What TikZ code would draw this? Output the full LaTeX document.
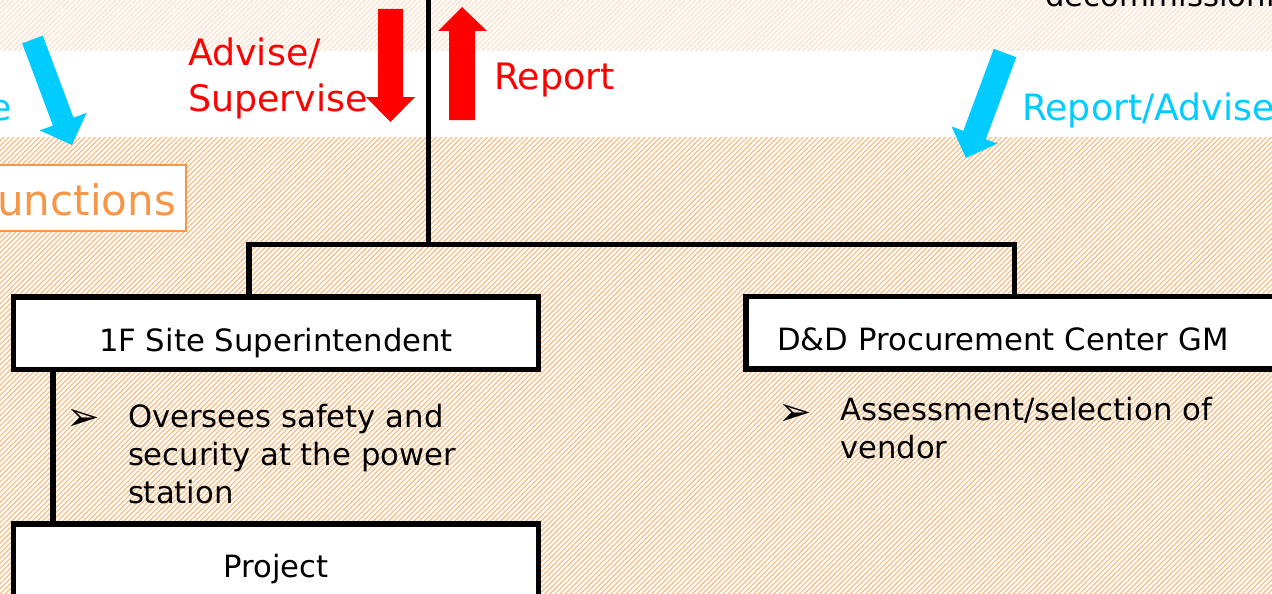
\documentclass[tikz,border=0pt]{standalone}
\usepackage{fontspec}
\setmainfont{DejaVu Sans}
\usetikzlibrary{patterns.meta,calc}
\definecolor{hatchlo}{HTML}{F9BF88}
\definecolor{hatchhi}{HTML}{FDE2CC}
\definecolor{myred}{HTML}{FF0000}
\definecolor{mycyan}{HTML}{00CCFF}
\definecolor{myorange}{HTML}{F79646}
\begin{document}
\begin{tikzpicture}[x=1pt,y=-1pt,
  boxnode/.style={draw=black, line width=5.5pt, fill=white, inner sep=0pt, outer sep=0pt,
    font=\fontsize{30.7}{37}\selectfont, text depth=0pt},
  conn/.style={draw=black, line width=5.5pt, line join=miter},
  bodytext/.style={inner sep=0pt, outer sep=0pt, anchor=base west, font=\fontsize{30.7}{37}\selectfont},
  bullet/.style={inner sep=0pt, outer sep=0pt, anchor=base west, font=\fontsize{40}{44}\selectfont},
  redtext/.style={inner sep=0pt, outer sep=0pt, anchor=base west, text=myred, font=\fontsize{36.4}{44}\selectfont},
  cyantext/.style={inner sep=0pt, outer sep=0pt, anchor=base west, text=mycyan, font=\fontsize{36.3}{44}\selectfont},
  hatchfill/.style={pattern={Lines[angle=45,distance=3.6pt,line width=1.3pt]}}
]
\useasboundingbox (0,0) rectangle (1272,594);
\clip (0,0) rectangle (1272,594);
% background
\fill[white] (0,0) rectangle (1272,594);
\fill[hatchfill, pattern color=hatchhi] (0,0) rectangle (1272,51);
\fill[hatchfill, pattern color=hatchlo] (0,137) rectangle (1272,594);

% clipped texts at the edges
\node[bodytext] (decom) at (1045,7) {decommissionin};
\node[cyantext, anchor=base east] (lefte) at (12,120) {e};
\node[cyantext] (repadv) at (1022,120) {Report/Advise};

% orange box
\node[draw=myorange, line width=2.5pt, fill=white, text=myorange,
  font=\fontsize{42}{50}\selectfont, inner xsep=9.8pt, inner ysep=0pt, outer sep=0pt,
  minimum height=65.6pt, text height=34pt, text depth=0pt, anchor=east] (func) at (185.8,198) {unctions};

% cyan arrows
\fill[mycyan] (42.8,35.6) -- (73.5,117.7) -- (86.6,112.8) -- (72,145) -- (39.8,130.4) -- (52.9,125.5) -- (22.2,43.4) -- cycle;
\fill[mycyan] (1016.3,57.2) -- (985.8,139.2) -- (997.5,143.5) -- (966,158) -- (951.5,126.5) -- (963.3,130.8) -- (993.8,48.8) -- cycle;

% red arrows
\fill[myred] (378,9) -- (403,9) -- (403,97) -- (415,97) -- (390.5,122) -- (366,97) -- (378,97) -- cycle;
\fill[myred] (462,7) -- (487,31) -- (475,31) -- (475,120) -- (449,120) -- (449,31) -- (438,31) -- cycle;

% red labels
\node[redtext] (adv1) at (188,66) {Advise/};
\node[redtext] (adv2) at (188,111) {Supervise};
\node[redtext] (rep) at (494,89) {Report};

% boxes
\node[boxnode, minimum width=525pt, minimum height=72.5pt, text height=36pt] (sup) at (276,333) {1F Site Superintendent};
\node[boxnode, minimum height=72.5pt, text height=35pt, text width=482pt, align=left,
  inner xsep=31pt, anchor=west] (dd) at (746,332.5) {D\&D Procurement Center GM};
\node[boxnode, minimum width=525pt, minimum height=106pt, text height=0pt] (proj) at (276,577) {Project};

% connectors
\coordinate (topend) at (428.5,-5);
\coordinate (jmid) at (428.5,244.5);
\coordinate (jl) at (249,244.5);
\coordinate (jr) at (1014.5,244.5);
\coordinate (xl) at (53,0);
\draw[conn] (topend) -- (jmid);
\draw[conn] (jl |- sup.north) -- (jl) -- (jr) -- (jr |- dd.north);
\draw[conn] (xl |- sup.south) -- (xl |- proj.north);

% bullet texts
\node[bullet] (b1) at (66,430) {➢};
\node[bodytext] (b1a) at (128,427) {Oversees safety and};
\node[bodytext] (b1b) at (128,465) {security at the power};
\node[bodytext] (b1c) at (128,503) {station};
\node[bullet] (b2) at (778,425) {➢};
\node[bodytext] (b2a) at (840,420.5) {Assessment/selection of};
\node[bodytext] (b2b) at (840,458) {vendor};
\end{tikzpicture}
\end{document}
